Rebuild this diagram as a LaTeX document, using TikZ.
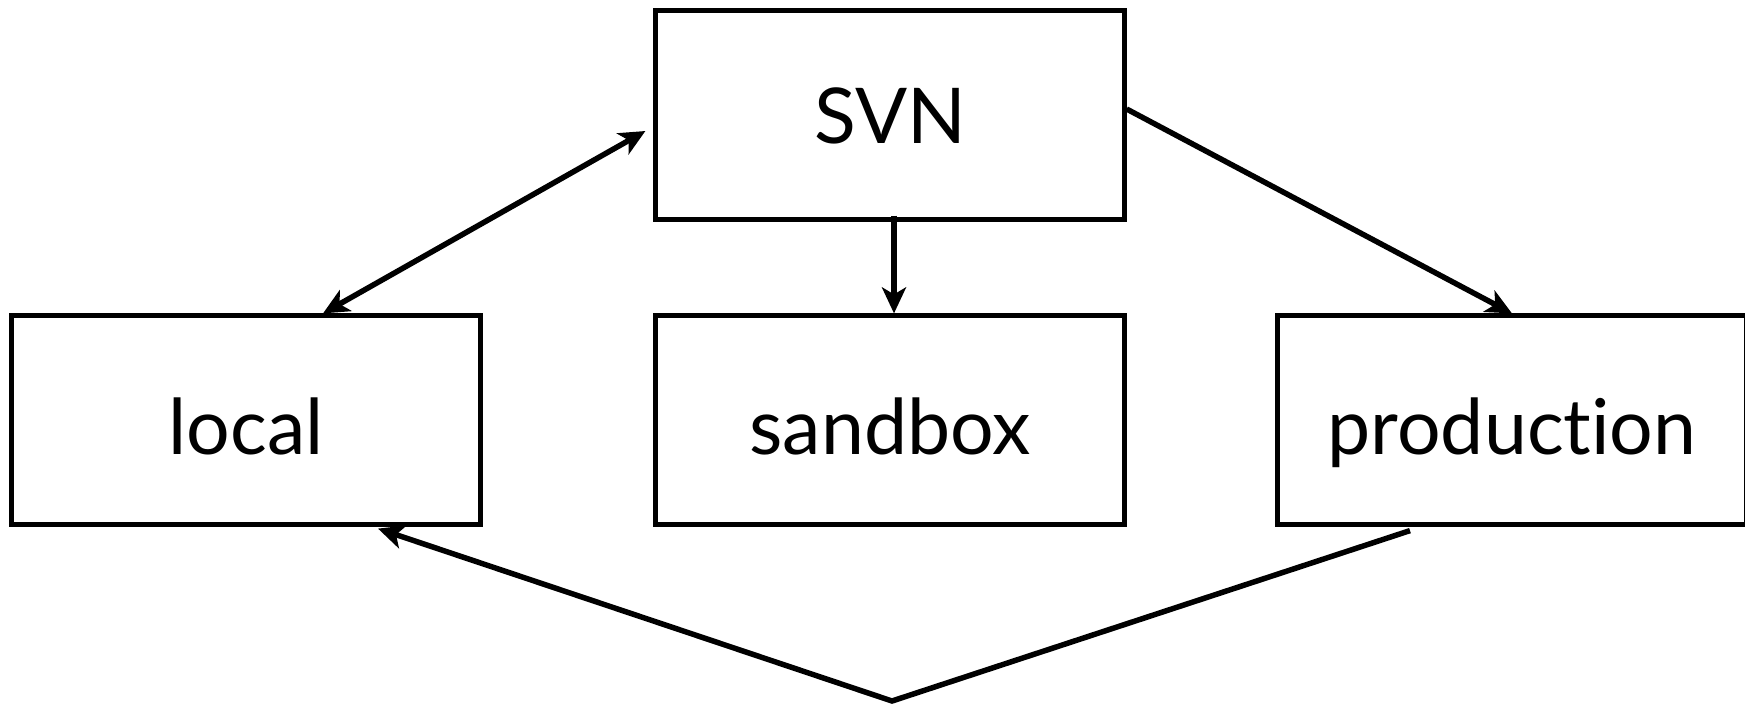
\documentclass[tikz,border=0pt]{standalone}
\usepackage{fontspec}
\setmainfont{Lato}[Ligatures=NoCommon]
\usetikzlibrary{arrows.meta, calc}

\begin{document}
\begin{tikzpicture}[x=1pt, y=-1pt, line width=5.5pt, > = {Stealth[length=26pt, width=24pt, inset=7pt]},
    env/.style = {draw, line width=4.2pt, minimum width=469pt, minimum height=209pt, inner sep=0pt, text height=81pt, text depth=12pt, font=\fontsize{77}{90}\selectfont}]
    \useasboundingbox (0,0) rectangle (1745,707);
    \node[env, text depth=24pt] (svn) at (890,115) {SVN};
    \node[env] (local) at (246,420) {local};
    \node[env] (sandbox) at (890,420) {sandbox};
    \node[env] (production) at (1512,420) {production};
    \coordinate (bottom) at (892,701);

    \draw[<->] ([xshift=77pt]local.north) -- ([xshift=-8pt,yshift=-16pt]svn.west);
    \draw[->] ([xshift=4pt,yshift=6pt]svn.south) -- ([xshift=4pt]sandbox.north);
    \draw[->] ([yshift=6pt]svn.east) -- (production.north);
    \draw[->] ([xshift=-102pt,yshift=-4pt]production.south) -- (bottom) -- ([xshift=132pt,yshift=-2pt]local.south);
\end{tikzpicture}
\end{document}
